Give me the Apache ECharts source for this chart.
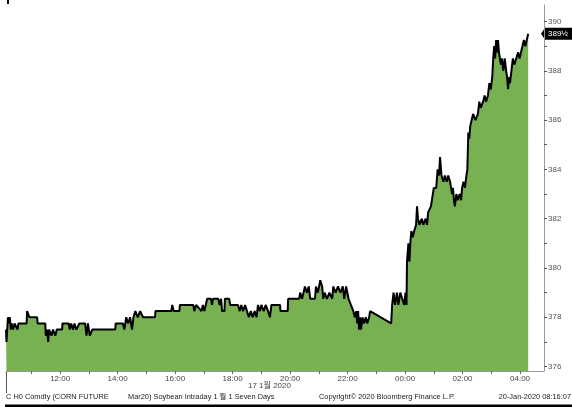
<!DOCTYPE html>
<html>
<head>
<meta charset="utf-8">
<script src="https://cdn.jsdelivr.net/npm/echarts@6.0.0/dist/echarts.min.js"></script>
<style>
html,body{margin:0;padding:0;background:#fff;}
#chart{width:572px;height:407px;}
</style>
</head>
<body>
<div id="chart"></div>
<script>
// ---- data (times local, 17-Jan-2020 into 18-Jan) ----
const times = [
'10:07','10:08','10:10','10:11','10:13','10:15','10:17','10:19','10:22','10:25','10:28','10:31','10:33','10:50','10:51','10:55','10:56',
'11:12','11:13','11:29','11:30','11:33','11:35','11:37','11:42','11:45','11:50','11:53',
'12:04','12:05','12:18','12:20','12:23','12:27','12:30','12:34','12:40','12:52','12:55','12:58',
'13:02','13:07','13:55','13:56',
'14:11','14:14','14:18','14:22','14:26','14:30','14:33','14:37','14:42','14:47','14:53',
'15:18','15:19','15:52','15:54','15:57',
'16:09','16:10','16:38','16:40','16:44','16:55','16:58',
'17:01','17:04','17:07','17:15','17:17','17:19','17:30','17:33','17:36','17:38','17:43','17:44','17:53','17:55',
'18:11','18:15','18:18','18:22','18:26','18:30','18:34','18:38','18:42','18:46','18:50','18:53','18:57',
'19:00','19:05','19:09','19:14','19:18','19:21','19:39','19:40','19:55','19:56',
'20:19','20:21','20:25','20:28','20:31','20:35','20:39','20:42','20:52','20:54','20:58',
'21:03','21:07','21:09','21:12','21:17','21:22','21:28','21:30','21:35','21:40','21:45','21:50','21:53','21:57',
'22:02','22:04','22:12','22:15','22:18','22:20','22:22','22:24','22:26','22:28','22:31','22:34','22:38','22:41','22:45','22:47',
'23:31','23:33','23:36','23:39','23:43','23:46','23:50','23:54','23:58',
'00:01','00:03','00:04','00:07','00:09','00:11','00:13','00:16','00:19','00:23','00:25','00:27','00:30','00:35','00:38','00:43','00:46','00:48','00:52','00:54','00:58',
'01:00','01:05','01:08','01:11','01:13','01:16','01:20','01:23','01:27','01:30','01:34','01:36','01:38','01:40','01:42','01:44','01:47','01:50','01:54','01:57','01:59',
'02:02','02:05','02:08','02:10','02:12','02:14','02:16','02:19','02:22','02:27','02:32','02:35','02:38','02:43','02:46','02:49','02:53','02:56','02:59',
'03:02','03:04','03:06','03:08','03:10','03:12','03:14','03:16','03:18','03:20','03:22','03:25','03:28','03:31','03:33','03:34','03:35','03:37','03:39','03:42','03:45','03:48','03:52','03:56','03:59',
'04:02','04:05','04:08','04:11','04:14','04:17'
];
const prices = [
377.5,377.0,377.0,378.0,377.75,378.0,377.5,377.75,377.5,377.75,377.75,377.5,377.75,377.75,378.25,378.25,378.0,
378.0,377.75,377.75,377.25,377.5,377.0,377.5,377.25,377.5,377.25,377.5,
377.5,377.75,377.75,377.5,377.75,377.5,377.75,377.5,377.75,377.75,377.25,377.75,
377.25,377.5,377.5,377.75,
377.75,377.5,378.0,377.75,378.0,377.5,378.0,378.25,378.0,378.25,378.0,
378.0,378.25,378.25,378.5,378.25,
378.25,378.5,378.5,378.25,378.5,378.25,378.5,
378.25,378.5,378.75,378.75,378.5,378.75,378.75,378.5,378.75,378.25,378.25,378.75,378.75,378.5,
378.5,378.25,378.5,378.25,378.5,378.25,378.0,378.25,378.0,378.25,378.0,378.5,378.25,
378.5,378.25,378.5,378.25,378.0,378.5,378.5,378.25,378.25,378.75,
378.75,379.0,378.75,379.0,379.25,379.0,379.25,378.75,378.75,379.25,379.0,
379.5,379.25,378.75,379.0,378.75,379.0,378.75,379.25,379.0,379.25,379.0,379.25,378.75,379.25,
378.75,378.75,378.25,378.0,378.25,377.75,378.25,377.5,378.0,377.5,378.0,377.75,378.0,377.75,378.0,378.25,
377.75,378.5,379.0,378.5,379.0,378.5,379.0,378.75,378.5,
379.0,378.5,380.25,381.0,380.25,381.0,381.5,381.25,381.5,381.75,382.5,382.0,381.75,382.0,381.75,382.0,381.75,382.25,382.25,382.5,382.5,
383.25,383.25,384.0,383.75,384.5,383.75,383.5,383.75,383.5,383.75,383.5,383.25,383.0,383.25,382.75,382.5,383.0,382.75,383.0,382.75,383.25,
383.5,383.25,383.75,384.0,385.5,385.25,385.75,386.0,386.25,386.0,386.25,386.75,386.5,386.75,387.0,386.75,387.0,387.5,387.25,
387.75,388.5,389.0,388.5,389.25,388.75,389.25,388.75,388.5,388.25,388.5,388.0,388.5,388.0,387.75,387.5,387.25,387.75,387.5,388.0,388.5,388.25,388.5,388.75,388.5,
388.75,389.0,389.25,389.0,389.25,389.5
];
const xLabelTimes = ['12:00','14:00','16:00','18:00','20:00','22:00','00:00','02:00','04:00'];
const xTickTimes = ['11:00','12:00','13:00','14:00','15:00','16:00','17:00','18:00','19:00','20:00','21:00','22:00','23:00','00:00','01:00','02:00','03:00','04:00'];
const yLabelValues = [376,378,380,382,384,386,388,390];
const yTickValues = [376,377,378,379,380,381,382,383,384,385,386,387,388,389,390];
const xStart = '10:07', xEnd = '04:50';
const yMin = 375.82, yMax = 390.67;
const lastPrice = 389.5, lastPriceText = '389½';
const dateText = '17 1월 2020';
const footerTexts = ['C H0 Comdty (CORN FUTURE', 'Mar20) Soybean Intraday 1 월 1 Seven Days', 'Copyright© 2020 Bloomberg Finance L.P.', '20-Jan-2020 08:16:07'];

// times before 10:00 belong to the next day
function toMin(s){ const p = s.split(':').map(Number); return (p[0] < 10 ? p[0] + 24 : p[0]) * 60 + p[1]; }
function fmt(v){ const h = Math.floor(v / 60) % 24, m = v % 60; return String(h).padStart(2,'0') + ':' + String(m).padStart(2,'0'); }

const seriesData = times.map((t, i) => [toMin(t), prices[i]]);
const FONT = '"Liberation Sans", "Noto Sans CJK KR", sans-serif';
const FOOT = '7.4px ' + FONT;

const chart = echarts.init(document.getElementById('chart'), null, {renderer: 'canvas'});
chart.setOption({
  animation: false,
  backgroundColor: '#ffffff',
  grid: {left: 6, right: 28, top: 5, bottom: 36},
  xAxis: {
    type: 'value', min: toMin(xStart), max: toMin(xEnd),
    axisLine: {show: true, lineStyle: {color: '#9a9a9a', width: 1}},
    axisTick: {show: true, customValues: xTickTimes.map(toMin), length: 3, lineStyle: {color: '#666'}},
    axisLabel: {customValues: xLabelTimes.map(toMin), formatter: v => fmt(v), fontSize: 8, color: '#444', margin: 4, fontFamily: FONT},
    splitLine: {show: false}
  },
  yAxis: {
    type: 'value', position: 'right', min: yMin, max: yMax,
    axisLine: {show: true, lineStyle: {color: '#9a9a9a', width: 1}},
    axisTick: {show: true, customValues: yTickValues, length: 3, lineStyle: {color: '#555'}},
    axisLabel: {customValues: yLabelValues, fontSize: 8, color: '#555', margin: 4, fontFamily: FONT},
    splitLine: {show: false}
  },
  series: [{
    type: 'line', data: seriesData, symbol: 'none', showSymbol: false,
    lineStyle: {color: '#000', width: 2},
    areaStyle: {color: '#78b152', opacity: 1, origin: 'start'}
  }]
});

const lastPt = chart.convertToPixel({gridIndex: 0}, [toMin(times[times.length-1]), lastPrice]);
const axisX = chart.convertToPixel({gridIndex: 0}, [toMin(xEnd), lastPrice])[0];
const py = lastPt[1];
chart.setOption({
  graphic: [
    {type: 'rect', shape: {x: 7, y: 0, width: 2, height: 4}, style: {fill: '#000'}},
    {type: 'line', shape: {x1: 6.5, y1: 371, x2: 6.5, y2: 393}, style: {stroke: '#555', lineWidth: 1}},
    {type: 'rect', shape: {x: 5, y: 404.5, width: 567, height: 2.5}, style: {fill: '#000'}},
    {type: 'text', x: 248, y: 386, style: {text: dateText, fill: '#444', font: '8px ' + FONT, verticalAlign: 'middle'}},
    {type: 'text', x: 6, y: 397, style: {text: footerTexts[0], fill: '#222', font: FOOT, verticalAlign: 'middle'}},
    {type: 'text', x: 128, y: 397, style: {text: footerTexts[1], fill: '#222', font: FOOT, verticalAlign: 'middle'}},
    {type: 'text', x: 319, y: 397, style: {text: footerTexts[2], fill: '#222', font: FOOT, verticalAlign: 'middle'}},
    {type: 'text', x: 571, y: 397, style: {text: footerTexts[3], fill: '#222', font: FOOT, align: 'right', verticalAlign: 'middle'}},
    {type: 'polygon', shape: {points: [[axisX - 3, py], [axisX + 1, py - 6], [572, py - 6], [572, py + 6], [axisX + 1, py + 6]]}, style: {fill: '#000'}},
    {type: 'text', x: axisX + 4, y: py, style: {text: lastPriceText, fill: '#fff', font: '8px ' + FONT, verticalAlign: 'middle'}}
  ]
});
</script>
</body>
</html>
